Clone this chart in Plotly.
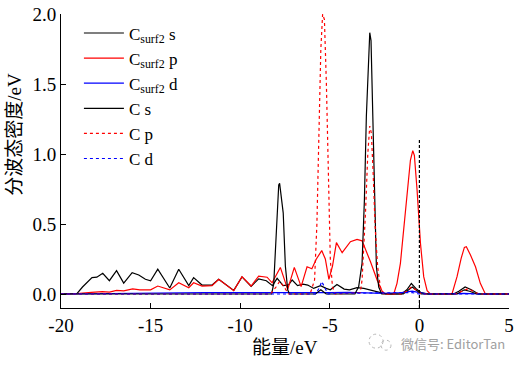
import plotly.graph_objects as go

# ---- data ----
cs2_s_x = [-20, -19.4, -19.1, -18.8, -18.5, -18.27, -18.0, -17.67, -17.3, -16.9, -16.5, -16.03, -15.66, -15.29, -15.0,
           -14.6, -13.93, -13.43, -12.87, -12.6, -12.13, -11.57, -11.2, -10.36, -9.9, -9.39, -8.97, -8.54, -8.2,
           -7.94, -7.6, -7.3, -7.1, -6.8, -6.5, -6.23, -5.9, -5.52, -5.2, -4.97, -4.6, -4.2, -3.9, -3.48, -3.1,
           -2.8, -2.4, -2.0, -1.6, -1.0, -0.7, -0.45, -0.2, 0.1, 0.5, 1.9, 2.2, 2.55, 2.9, 3.3, 5]
cs2_s_y = [0, 0, 0.005, 0.05, 0.09, 0.117, 0.12, 0.148, 0.095, 0.167, 0.078, 0.152, 0.136, 0.105, 0.095,
           0.177, 0.043, 0.177, 0.06, 0.117, 0.064, 0.064, 0.105, 0.026, 0.122, 0.055, 0.108, 0.095, 0.06,
           0.112, 0.06, 0.065, 0.1, 0.06, 0.07, 0.064, 0.04, 0.06, 0.04, 0.03, 0.068, 0.035, 0.03, 0.045, 0.04,
           0.03, 0.02, 0.005, 0, 0, 0.03, 0.075, 0.04, 0.01, 0, 0, 0.02, 0.05, 0.03, 0, 0]

cs2_p_x = [-20, -19.5, -19.1, -18.3, -17.7, -17.3, -16.9, -16.5, -16.0, -15.6, -15.0, -14.6, -13.93, -13.43,
           -12.87, -12.6, -12.13, -11.57, -11.2, -10.36, -9.9, -9.39, -8.97, -8.5, -8.22, -7.76, -7.35, -6.98,
           -6.6, -6.27, -6.0, -5.75, -5.45, -5.25, -5.05, -4.85, -4.63, -4.31, -3.85, -3.48, -3.2, -2.73, -2.36,
           -2.08, -1.9, -1.43, -1.25, -1.06, -0.87, -0.69, -0.5, -0.37, -0.28, -0.13, 0.06, 0.24, 0.43, 0.61,
           1.82, 2.1, 2.33, 2.51, 2.62, 2.85, 3.13, 3.4, 3.68, 5]
cs2_p_y = [0, 0, 0.003, 0.012, 0.017, 0.014, 0.026, 0.022, 0.036, 0.03, 0.03, 0.057, 0.029, 0.081,
           0.045, 0.08, 0.057, 0.06, 0.105, 0.024, 0.124, 0.057, 0.128, 0.12, 0.08, 0.19, 0.033, 0.19,
           0.053, 0.195, 0.18, 0.25, 0.31, 0.25, 0.105, 0.2, 0.367, 0.295, 0.374, 0.39, 0.38, 0.23, 0.1,
           0.02, 0.0, 0, 0.076, 0.219, 0.48, 0.72, 0.957, 1.024, 0.99, 0.743, 0.36, 0.124, 0.024, 0,
           0, 0.124, 0.255, 0.333, 0.338, 0.279, 0.195, 0.076, 0, 0]

cs2_d_x = [-20, -18, -16, -14, -12, -10, -8, -6, -5, -4, -3, -2, -1, -0.4, 0, 0.5, 2.5, 3.5, 5]
cs2_d_y = [0, 0.003, 0.008, 0.01, 0.01, 0.01, 0.008, 0.01, 0.01, 0.012, 0.01, 0.005, 0.01, 0.02, 0.01, 0, 0.005, 0, 0]

c_s_x = [-20, -8.25, -8.13, -8.0, -7.94, -7.85, -7.8, -7.72, -7.6, -7.48, -7.35, -7.25, -5.8, -5.5, -5.2,
         -3.6, -3.39, -3.2, -3.07, -2.96, -2.85, -2.77, -2.7, -2.62, -2.51, -2.4, -2.27, -2.1, -0.9, -0.6,
         -0.4, -0.2, 0.1, 2.1, 2.5, 2.8, 3.2, 5]
c_s_y = [0, 0, 0.07, 0.4, 0.62, 0.78, 0.79, 0.72, 0.58, 0.2, 0.03, 0, 0, 0.03, 0,
         0, 0.052, 0.219, 0.67, 1.27, 1.67, 1.867, 1.81, 1.386, 0.67, 0.195, 0.05, 0, 0, 0.03,
         0.05, 0.03, 0, 0, 0.03, 0.02, 0, 0]

c_p_x = [-20, -8.3, -8.0, -7.8, -7.55, -7.3, -6.1, -5.85, -5.72, -5.62, -5.5, -5.4, -5.3, -5.19, -5.08,
         -4.97, -4.85, -4.7, -3.3, -3.2, -3.01, -2.88, -2.77, -2.68, -2.58, -2.47, -2.33, -2.18, -2.0,
         -1.0, -0.7, -0.45, -0.2, 0.1, 2.0, 2.4, 2.75, 3.1, 3.4, 5]
c_p_y = [0, 0, 0.05, 0.09, 0.05, 0, 0, 0.1, 0.5, 1.2, 1.75, 2.0, 1.96, 1.5, 0.77,
         0.24, 0.05, 0, 0.01, 0.1, 0.576, 1.0, 1.2, 1.148, 0.86, 0.48, 0.195, 0.05, 0,
         0, 0.02, 0.05, 0.03, 0, 0, 0.02, 0.04, 0.01, 0, 0]

c_d_x = [-20, -5.8, -5.6, -5.45, -5.3, -5.1, -4.8, -3.0, -0.4, 0, 5]
c_d_y = [0, 0, 0.04, 0.09, 0.05, 0, 0.005, 0.005, 0.01, 0, 0]

fermi = 0.0
x_ticks = [-20, -15, -10, -5, 0, 5]
y_ticks = [0.0, 0.5, 1.0, 1.5, 2.0]

series = [
    ("C<sub>surf2</sub> s", cs2_s_x, cs2_s_y, "black", "solid"),
    ("C<sub>surf2</sub> p", cs2_p_x, cs2_p_y, "red", "solid"),
    ("C<sub>surf2</sub> d", cs2_d_x, cs2_d_y, "blue", "solid"),
    ("C s", c_s_x, c_s_y, "black", "solid"),
    ("C p", c_p_x, c_p_y, "red", "dot"),
    ("C d", c_d_x, c_d_y, "blue", "dot"),
]

serif = "Liberation Serif, Times New Roman, Noto Sans CJK SC, serif"

fig = go.Figure()
for name, xs, ys, col, dash in series:
    fig.add_trace(go.Scatter(x=xs, y=ys, mode="lines", name=name,
                             line=dict(color=col, width=1.2, dash=dash)))

fig.add_shape(type="line", x0=fermi, x1=fermi, y0=-0.1, y1=1.1, xref="x", yref="y",
              line=dict(color="black", width=1.2, dash="3px,2px"))

fig.update_layout(
    width=521, height=365,
    margin=dict(l=61, r=12, t=14, b=57, autoexpand=False),
    paper_bgcolor="white", plot_bgcolor="white",
    font=dict(family=serif, size=18, color="black"),
    showlegend=True,
    legend=dict(x=0.04, y=0.995, xanchor="left", yanchor="top",
                bgcolor="rgba(0,0,0,0)", font=dict(size=17, family=serif),
                tracegroupgap=0, itemwidth=40),
    xaxis=dict(range=[-20, 5], tickvals=x_ticks, ticktext=[str(v) for v in x_ticks],
               ticks="inside", ticklen=5, tickwidth=1, tickcolor="black", automargin=False,
               showline=True, linecolor="black", linewidth=1, showgrid=False, zeroline=False,
               tickfont=dict(size=19, family=serif)),
    yaxis=dict(range=[-0.1, 2.0005], tickvals=y_ticks, ticktext=["%.1f" % v for v in y_ticks],
               ticks="inside", ticklen=5, tickwidth=1, tickcolor="black", automargin=False,
               showline=True, linecolor="black", linewidth=1, showgrid=False, zeroline=False,
               tickfont=dict(size=19, family=serif)),
)

# axis titles
fig.add_annotation(text="能量/eV", xref="paper", yref="paper", x=0.5, y=-0.136,
                   xanchor="center", yanchor="middle", showarrow=False,
                   font=dict(size=19, family=serif))
fig.add_annotation(text="分波态密度/eV", xref="paper", yref="paper", x=-0.103, y=0.592,
                   xanchor="center", yanchor="middle", showarrow=False, textangle=-90,
                   font=dict(size=19, family=serif))

# watermark
fig.add_annotation(text="微信号: EditorTan", xref="paper", yref="paper", x=0.9955, y=-0.12,
                   xanchor="right", yanchor="middle", showarrow=False,
                   font=dict(size=13, color="#a0a0a0", family="Noto Sans CJK SC, sans-serif"))
fig.add_shape(type="circle", xref="paper", yref="paper", x0=0.6875, x1=0.7188, y0=-0.1367, y1=-0.089,
              line=dict(color="#b8b8b8", width=1, dash="dot"))
fig.add_shape(type="circle", xref="paper", yref="paper", x0=0.7143, x1=0.7366, y0=-0.1435, y1=-0.1094,
              line=dict(color="#b8b8b8", width=1, dash="dot"))

fig.write_html("out.html", config={"displayModeBar": False},
               post_script="document.body.style.margin='0px';")
